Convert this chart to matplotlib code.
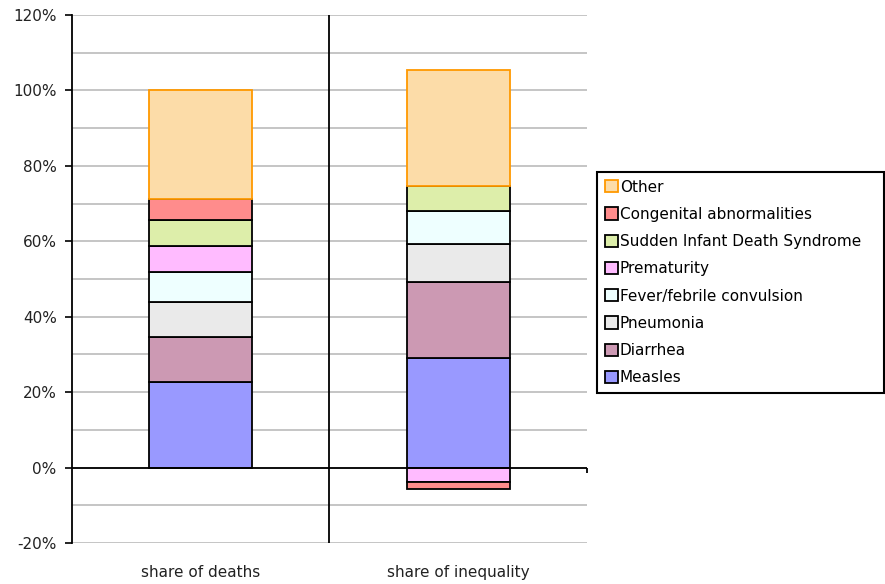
import numpy as np
import matplotlib.pyplot as plt
from matplotlib.ticker import MultipleLocator, FuncFormatter

categories = ['share of deaths', 'share of inequality']
causes = ['Measles', 'Diarrhea', 'Pneumonia', 'Fever/febrile convulsion',
          'Prematurity', 'Sudden Infant Death Syndrome',
          'Congenital abnormalities', 'Other']

# percent, per cause, for each of the two columns
measles = [22.8, 29.1]
diarrhea = [11.7, 20.2]
pneumonia = [9.5, 10.1]
fever = [7.9, 8.5]
prematurity = [6.9, -3.8]
sids = [6.9, 6.8]
congenital = [5.4, -2.0]
other = [28.9, 30.7]

series = [measles, diarrhea, pneumonia, fever, prematurity, sids, congenital, other]
fills = ['#9999FF', '#CC99B3', '#EAEAEA', '#EEFFFF', '#FFBBFF', '#DDEEAA',
         '#FF8C8C', '#FCDCA8']
edges = ['black'] * 7 + ['#FF9900']

plt.rcParams['font.family'] = 'DejaVu Sans'
fig = plt.figure(figsize=(8.85, 5.84), dpi=100)
ax = fig.add_axes([72 / 885, 41 / 584, (587 - 72) / 885, (543 - 15) / 584])

x = np.arange(len(categories)) + 1
pos_base = np.zeros(len(categories))
neg_base = np.zeros(len(categories))
handles = []
for vals, name, fc, ec in zip(series, causes, fills, edges):
    vals = np.array(vals)
    bottoms = np.where(vals >= 0, pos_base, neg_base)
    bars = ax.bar(x, vals, width=0.4, bottom=bottoms, color=fc,
                  edgecolor=ec, linewidth=1.3, label=name, zorder=3)
    handles.append(bars)
    pos_base += np.where(vals >= 0, vals, 0)
    neg_base += np.where(vals < 0, vals, 0)

ax.set_xlim(0.5, 2.5)
ax.set_ylim(-20, 120)
ax.yaxis.set_major_locator(MultipleLocator(20))
ax.yaxis.set_minor_locator(MultipleLocator(10))
ax.yaxis.set_major_formatter(FuncFormatter(lambda v, p: f'{v:.0f}%'))
ax.grid(axis='y', which='both', color='#C0C0C0', linewidth=1.3, zorder=0)
ax.tick_params(axis='y', which='major', direction='out', length=5, width=1.2,
               labelsize=11, labelcolor='#222222', pad=6)
ax.tick_params(axis='y', which='minor', length=0)

ax.set_xticks(x)
ax.set_xticklabels(categories)
ax.tick_params(axis='x', length=0, labelsize=11, labelcolor='#222222', pad=16)

for side in ['top', 'right', 'bottom']:
    ax.spines[side].set_visible(False)
ax.spines['left'].set_linewidth(1.3)

# category axis at zero with the divider between columns
ax.axhline(0, color='black', linewidth=1.3, zorder=4)
ax.axvline(1.5, color='black', linewidth=1.3, zorder=4)
ax.vlines(2.5, -1.4, 0, color='black', linewidth=1.3, clip_on=False, zorder=4)

leg = ax.legend(handles[::-1], causes[::-1], loc='upper left',
                bbox_to_anchor=(597 / 885, 1 - 392 / 584, 287 / 885, 220 / 584),
                bbox_transform=fig.transFigure, mode='expand', fancybox=False,
                framealpha=1, edgecolor='black', fontsize=11,
                handlelength=0.85, handleheight=0.85, handletextpad=0.15,
                labelspacing=0.8, borderpad=0.5, borderaxespad=0)
leg.get_frame().set_linewidth(1.5)

fig.savefig('out.png', dpi=100)
